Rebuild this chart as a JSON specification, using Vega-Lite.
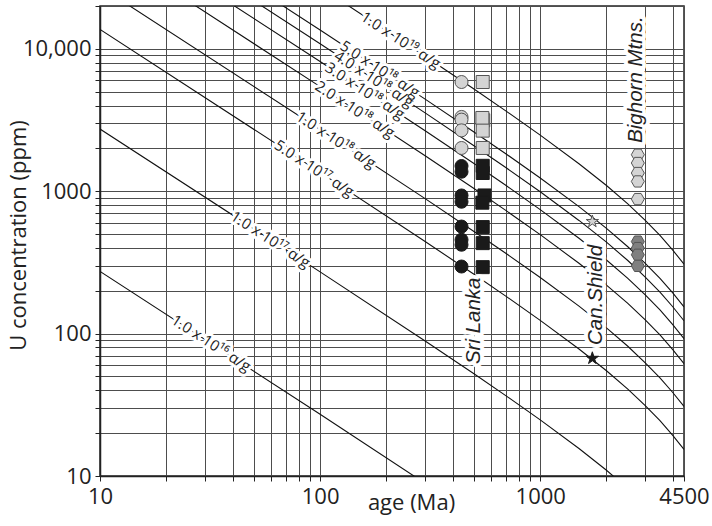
{
  "$schema": "https://vega.github.io/schema/vega-lite/v6.json",
  "width": 584,
  "height": 470,
  "autosize": {"type": "none"},
  "padding": {"left": 100, "top": 6, "right": 28, "bottom": 50},
  "background": "white",
  "config": {
    "view": {"stroke": "#222", "strokeWidth": 1.5},
    "font": "Open Sans"
  },
  "datasets": {
    "curves": [
      {"dose": "1e16", "age": 10, "U": 273.7}, {"dose": "1e16", "age": 100, "U": 27.14}, {"dose": "1e16", "age": 300, "U": 8.876},
      {"dose": "1e17", "age": 10, "U": 2737}, {"dose": "1e17", "age": 100, "U": 271.4}, {"dose": "1e17", "age": 300, "U": 88.76}, {"dose": "1e17", "age": 500, "U": 52.2}, {"dose": "1e17", "age": 700, "U": 36.54}, {"dose": "1e17", "age": 1000, "U": 24.77}, {"dose": "1e17", "age": 1500, "U": 15.59}, {"dose": "1e17", "age": 2000, "U": 10.97}, {"dose": "1e17", "age": 2500, "U": 8.152},
      {"dose": "5e17", "age": 10, "U": 13686}, {"dose": "5e17", "age": 100, "U": 1357}, {"dose": "5e17", "age": 300, "U": 443.8}, {"dose": "5e17", "age": 500, "U": 261.0}, {"dose": "5e17", "age": 700, "U": 182.7}, {"dose": "5e17", "age": 1000, "U": 123.8}, {"dose": "5e17", "age": 1500, "U": 77.96}, {"dose": "5e17", "age": 2000, "U": 54.83}, {"dose": "5e17", "age": 2500, "U": 40.76}, {"dose": "5e17", "age": 3000, "U": 31.17}, {"dose": "5e17", "age": 3500, "U": 24.46}, {"dose": "5e17", "age": 4000, "U": 19.3}, {"dose": "5e17", "age": 4500, "U": 15.39},
      {"dose": "1e18", "age": 10, "U": 27373}, {"dose": "1e18", "age": 100, "U": 2714}, {"dose": "1e18", "age": 300, "U": 887.6}, {"dose": "1e18", "age": 500, "U": 522.0}, {"dose": "1e18", "age": 700, "U": 365.4}, {"dose": "1e18", "age": 1000, "U": 247.7}, {"dose": "1e18", "age": 1500, "U": 155.9}, {"dose": "1e18", "age": 2000, "U": 109.7}, {"dose": "1e18", "age": 2500, "U": 81.52}, {"dose": "1e18", "age": 3000, "U": 62.35}, {"dose": "1e18", "age": 3500, "U": 48.93}, {"dose": "1e18", "age": 4000, "U": 38.59}, {"dose": "1e18", "age": 4500, "U": 30.79},
      {"dose": "2e18", "age": 10, "U": 54745}, {"dose": "2e18", "age": 100, "U": 5428}, {"dose": "2e18", "age": 300, "U": 1775}, {"dose": "2e18", "age": 500, "U": 1044}, {"dose": "2e18", "age": 700, "U": 730.8}, {"dose": "2e18", "age": 1000, "U": 495.4}, {"dose": "2e18", "age": 1500, "U": 311.8}, {"dose": "2e18", "age": 2000, "U": 219.3}, {"dose": "2e18", "age": 2500, "U": 163.0}, {"dose": "2e18", "age": 3000, "U": 124.7}, {"dose": "2e18", "age": 3500, "U": 97.86}, {"dose": "2e18", "age": 4000, "U": 77.18}, {"dose": "2e18", "age": 4500, "U": 61.57},
      {"dose": "3e18", "age": 10, "U": 82118}, {"dose": "3e18", "age": 100, "U": 8143}, {"dose": "3e18", "age": 300, "U": 2663}, {"dose": "3e18", "age": 500, "U": 1566}, {"dose": "3e18", "age": 700, "U": 1096}, {"dose": "3e18", "age": 1000, "U": 743.1}, {"dose": "3e18", "age": 1500, "U": 467.7}, {"dose": "3e18", "age": 2000, "U": 329.0}, {"dose": "3e18", "age": 2500, "U": 244.5}, {"dose": "3e18", "age": 3000, "U": 187.0}, {"dose": "3e18", "age": 3500, "U": 146.8}, {"dose": "3e18", "age": 4000, "U": 115.8}, {"dose": "3e18", "age": 4500, "U": 92.36},
      {"dose": "4e18", "age": 10, "U": 109491}, {"dose": "4e18", "age": 100, "U": 10857}, {"dose": "4e18", "age": 300, "U": 3550}, {"dose": "4e18", "age": 500, "U": 2088}, {"dose": "4e18", "age": 700, "U": 1462}, {"dose": "4e18", "age": 1000, "U": 990.8}, {"dose": "4e18", "age": 1500, "U": 623.6}, {"dose": "4e18", "age": 2000, "U": 438.7}, {"dose": "4e18", "age": 2500, "U": 326.1}, {"dose": "4e18", "age": 3000, "U": 249.4}, {"dose": "4e18", "age": 3500, "U": 195.7}, {"dose": "4e18", "age": 4000, "U": 154.4}, {"dose": "4e18", "age": 4500, "U": 123.1},
      {"dose": "5e18", "age": 10, "U": 136863}, {"dose": "5e18", "age": 100, "U": 13571}, {"dose": "5e18", "age": 300, "U": 4438}, {"dose": "5e18", "age": 500, "U": 2610}, {"dose": "5e18", "age": 700, "U": 1827}, {"dose": "5e18", "age": 1000, "U": 1238}, {"dose": "5e18", "age": 1500, "U": 779.6}, {"dose": "5e18", "age": 2000, "U": 548.3}, {"dose": "5e18", "age": 2500, "U": 407.6}, {"dose": "5e18", "age": 3000, "U": 311.7}, {"dose": "5e18", "age": 3500, "U": 244.6}, {"dose": "5e18", "age": 4000, "U": 193.0}, {"dose": "5e18", "age": 4500, "U": 153.9},
      {"dose": "1e19", "age": 10, "U": 273726}, {"dose": "1e19", "age": 100, "U": 27142}, {"dose": "1e19", "age": 300, "U": 8876}, {"dose": "1e19", "age": 500, "U": 5220}, {"dose": "1e19", "age": 700, "U": 3654}, {"dose": "1e19", "age": 1000, "U": 2477}, {"dose": "1e19", "age": 1500, "U": 1559}, {"dose": "1e19", "age": 2000, "U": 1097}, {"dose": "1e19", "age": 2500, "U": 815.2}, {"dose": "1e19", "age": 3000, "U": 623.5}, {"dose": "1e19", "age": 3500, "U": 489.3}, {"dose": "1e19", "age": 4000, "U": 385.9}, {"dose": "1e19", "age": 4500, "U": 307.9}
    ],
    "doseLabels": [
      {"label": "1.0 x 10¹⁹ α/g", "age": 232.5, "U": 11500},
      {"label": "5.0 x 10¹⁸ α/g", "age": 186.8, "U": 7200},
      {"label": "4.0 x 10¹⁸ α/g", "age": 175.4, "U": 6140},
      {"label": "3.0 x 10¹⁸ α/g", "age": 159.8, "U": 5065},
      {"label": "2.0 x 10¹⁸ α/g", "age": 143.9, "U": 3756},
      {"label": "1.0 x 10¹⁸ α/g", "age": 118.1, "U": 2295},
      {"label": "5.0 x 10¹⁷ α/g", "age": 93.9, "U": 1446},
      {"label": "1.0 x 10¹⁷ α/g", "age": 59.4, "U": 458},
      {"label": "1.0 x 10¹⁶ α/g", "age": 31.96, "U": 85.5}
    ],
    "samples": [
      {"series": "SL circle light", "age": 439, "U": 5850},
      {"series": "SL circle light", "age": 439, "U": 3326},
      {"series": "SL circle light", "age": 439, "U": 3183},
      {"series": "SL circle light", "age": 439, "U": 2677},
      {"series": "SL circle light", "age": 439, "U": 2013},
      {"series": "SL circle dark", "age": 439, "U": 1504},
      {"series": "SL circle dark", "age": 439, "U": 1371},
      {"series": "SL circle dark", "age": 439, "U": 934},
      {"series": "SL circle dark", "age": 439, "U": 844},
      {"series": "SL circle dark", "age": 439, "U": 565},
      {"series": "SL circle dark", "age": 439, "U": 456},
      {"series": "SL circle dark", "age": 439, "U": 421},
      {"series": "SL circle dark", "age": 439, "U": 296},
      {"series": "SL square light", "age": 548, "U": 5850},
      {"series": "SL square light", "age": 551, "U": 3150},
      {"series": "SL square light", "age": 546, "U": 3270},
      {"series": "SL square light", "age": 548, "U": 2665},
      {"series": "SL square light", "age": 548, "U": 2013},
      {"series": "SL square dark", "age": 548, "U": 1509},
      {"series": "SL square dark", "age": 548, "U": 1343},
      {"series": "SL square dark", "age": 558, "U": 934},
      {"series": "SL square dark", "age": 546, "U": 831},
      {"series": "SL square dark", "age": 548, "U": 560},
      {"series": "SL square dark", "age": 548, "U": 432},
      {"series": "SL square dark", "age": 548, "U": 293},
      {"series": "CS star light", "age": 1725, "U": 613},
      {"series": "CS star dark", "age": 1725, "U": 67.1},
      {"series": "BH hex light", "age": 2776, "U": 1806},
      {"series": "BH hex light", "age": 2776, "U": 1579},
      {"series": "BH hex light", "age": 2776, "U": 1343},
      {"series": "BH hex light", "age": 2776, "U": 1172},
      {"series": "BH hex light", "age": 2776, "U": 881},
      {"series": "BH hex dark", "age": 2776, "U": 443},
      {"series": "BH hex dark", "age": 2776, "U": 399},
      {"series": "BH hex dark", "age": 2776, "U": 358},
      {"series": "BH hex dark", "age": 2776, "U": 299}
    ],
    "regionLabels": [
      {"label": "Sri Lanka", "age": 498, "U": 123},
      {"label": "Can.Shield", "age": 1792, "U": 187},
      {"label": "Bighorn Mtns.", "age": 2710, "U": 6080}
    ]
  },
  "encoding": {
    "x": {
      "field": "age",
      "type": "quantitative",
      "scale": {"type": "log", "domain": [10, 4500], "nice": false},
      "axis": {
        "title": "age (Ma)",
        "values": [10, 20, 30, 40, 50, 60, 70, 80, 90, 100, 200, 300, 400, 500, 600, 700, 800, 900, 1000, 2000, 3000, 4000, 4500],
        "labelExpr": "(datum.value == 10 || datum.value == 100 || datum.value == 1000 || datum.value == 4500) ? format(datum.value, 'd') : ''",
        "grid": true,
        "gridColor": "#4d4d4d",
        "gridWidth": 1,
        "gridOpacity": 1,
        "tickSize": 5,
        "tickColor": "#222",
        "domainColor": "#222",
        "domainWidth": 1.5,
        "labelFont": "Open Sans",
        "labelFontSize": 22,
        "labelColor": "#222",
        "labelPadding": 5,
        "labelFlush": false,
        "labelOverlap": false,
        "titleFont": "Open Sans",
        "titleFontSize": 22,
        "titleFontWeight": "normal",
        "titleColor": "#222",
        "titleX": 311,
        "titleY": 33,
        "titleBaseline": "alphabetic",
        "titleAlign": "center"
      }
    },
    "y": {
      "field": "U",
      "type": "quantitative",
      "scale": {"type": "log", "domain": [10, 20000], "nice": false},
      "axis": {
        "title": "U concentration (ppm)",
        "values": [10, 20, 30, 40, 50, 60, 70, 80, 90, 100, 200, 300, 400, 500, 600, 700, 800, 900, 1000, 2000, 3000, 4000, 5000, 6000, 7000, 8000, 9000, 10000, 20000],
        "labelExpr": "datum.value == 10000 ? '10,000' : ((datum.value == 10 || datum.value == 100 || datum.value == 1000) ? format(datum.value, 'd') : '')",
        "grid": true,
        "gridColor": "#4d4d4d",
        "gridWidth": 1,
        "gridOpacity": 1,
        "tickSize": 5,
        "tickColor": "#222",
        "domainColor": "#222",
        "domainWidth": 1.5,
        "labelFont": "Open Sans",
        "labelFontSize": 22,
        "labelColor": "#222",
        "labelPadding": 4,
        "labelFlush": false,
        "labelOverlap": false,
        "labelBaseline": "middle",
        "titleFont": "Open Sans",
        "titleFontSize": 22,
        "titleFontWeight": "normal",
        "titleColor": "#222",
        "titleAngle": 270,
        "titleX": -75,
        "titleY": 229,
        "titleBaseline": "alphabetic",
        "titleAlign": "center"
      }
    }
  },
  "layer": [
    {
      "data": {"name": "curves"},
      "mark": {"type": "line", "clip": true, "color": "#111", "strokeWidth": 1.1},
      "encoding": {"detail": {"field": "dose", "type": "nominal"}}
    },
    {
      "data": {"name": "doseLabels"},
      "mark": {"type": "text", "angle": 33, "font": "Open Sans", "fontSize": 15, "align": "center", "baseline": "middle", "fill": "white", "stroke": "white", "strokeWidth": 6, "strokeJoin": "round"},
      "encoding": {"text": {"field": "label", "type": "nominal"}}
    },
    {
      "data": {"name": "doseLabels"},
      "mark": {"type": "text", "angle": 33, "font": "Open Sans", "fontSize": 15, "align": "center", "baseline": "middle", "fill": "#222"},
      "encoding": {"text": {"field": "label", "type": "nominal"}}
    },
    {
      "data": {"name": "samples"},
      "mark": {"type": "point", "filled": true, "opacity": 1, "strokeWidth": 1, "strokeOpacity": 1, "fillOpacity": 1},
      "encoding": {
        "shape": {
          "field": "series", "type": "nominal", "legend": null,
          "scale": {
            "domain": ["SL circle light", "SL circle dark", "SL square light", "SL square dark", "CS star light", "CS star dark", "BH hex light", "BH hex dark"],
            "range": ["circle", "circle", "square", "square",
              "M0,-1L0.2245,-0.309L0.951,-0.309L0.3633,0.118L0.588,0.809L0,0.382L-0.588,0.809L-0.3633,0.118L-0.951,-0.309L-0.2245,-0.309Z",
              "M0,-1L0.2245,-0.309L0.951,-0.309L0.3633,0.118L0.588,0.809L0,0.382L-0.588,0.809L-0.3633,0.118L-0.951,-0.309L-0.2245,-0.309Z",
              "M-1,0L-0.5,-0.866L0.5,-0.866L1,0L0.5,0.866L-0.5,0.866Z",
              "M-1,0L-0.5,-0.866L0.5,-0.866L1,0L0.5,0.866L-0.5,0.866Z"]
          }
        },
        "fill": {
          "field": "series", "type": "nominal", "legend": null,
          "scale": {
            "domain": ["SL circle light", "SL circle dark", "SL square light", "SL square dark", "CS star light", "CS star dark", "BH hex light", "BH hex dark"],
            "range": ["#d4d4d4", "#1a1a1a", "#d4d4d4", "#1a1a1a", "#d4d4d4", "#1a1a1a", "#d4d4d4", "#808080"]
          }
        },
        "stroke": {
          "field": "series", "type": "nominal", "legend": null,
          "scale": {
            "domain": ["SL circle light", "SL circle dark", "SL square light", "SL square dark", "CS star light", "CS star dark", "BH hex light", "BH hex dark"],
            "range": ["#555555", "#1a1a1a", "#555555", "#1a1a1a", "#555555", "#1a1a1a", "#555555", "#555555"]
          }
        },
        "size": {
          "field": "series", "type": "nominal", "legend": null,
          "scale": {
            "domain": ["SL circle light", "SL circle dark", "SL square light", "SL square dark", "CS star light", "CS star dark", "BH hex light", "BH hex dark"],
            "range": [169, 169, 110, 150, 300, 300, 169, 169]
          }
        }
      }
    },
    {
      "data": {"name": "regionLabels"},
      "mark": {"type": "text", "angle": 270, "font": "Liberation Sans", "fontStyle": "italic", "fontSize": 20.5, "align": "center", "baseline": "middle", "fill": "white", "stroke": "white", "strokeWidth": 8, "strokeJoin": "round"},
      "encoding": {"text": {"field": "label", "type": "nominal"}}
    },
    {
      "data": {"name": "regionLabels"},
      "mark": {"type": "text", "angle": 270, "font": "Liberation Sans", "fontStyle": "italic", "fontSize": 20.5, "align": "center", "baseline": "middle", "fill": "#222"},
      "encoding": {"text": {"field": "label", "type": "nominal"}}
    }
  ]
}
